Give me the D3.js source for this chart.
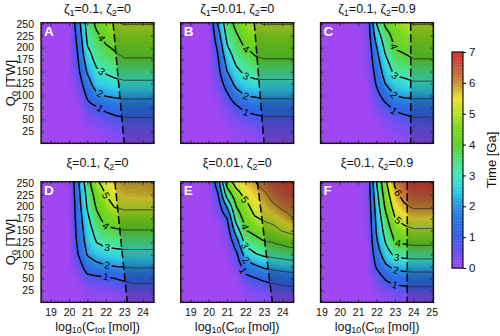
<!DOCTYPE html>
<html><head><meta charset="utf-8">
<script src="https://cdn.jsdelivr.net/npm/d3@7"></script>
<style>
body{margin:0;background:#fff;}
svg{display:block;font-family:"Liberation Sans",Arial,Helvetica,sans-serif;}
</style>
</head><body>
<svg id="chart" width="500" height="336"></svg>
<script>
// ---------------- DATA ----------------
const Q_ROWS = [0, 25, 50, 75, 100, 125, 150, 175, 200, 225, 250];           // Q0 [TW]
const X_COLS_AB = [18.5, 19, 19.5, 20, 20.5, 21, 21.5, 22, 22.5, 23, 23.5, 24, 24.5];
const X_COLS_CF = [19, 19.5, 20, 20.5, 21, 21.5, 22, 22.5, 23, 23.5, 24, 24.5, 25];

// Time [Ga], one array per log10(Ctot) column, values listed for Q_ROWS
const timeA = [
  [0,0,0,0,0,0,0,0,0,0,0],
  [0,0,0,0,0,0,0,0,0,0,0],
  [0,0,0,0,0,0,0,0,0,0,0],
  [0,0,0,0,0,0,0,0,0,0,0],
  [0,0,0,0,0.2,0.5,0.8,1.0,1.15,1.35,1.6],
  [0,0.05,0.3,0.7,1.15,1.6,2.1,2.5,2.95,3.2,3.4],
  [0,0.15,0.45,0.9,1.8,2.5,2.85,3.3,3.5,3.85,4.2],
  [0.05,0.25,0.6,1.25,2.05,2.6,3.1,3.5,3.9,4.25,4.6],
  [0.1,0.4,0.8,1.4,2.15,2.75,3.3,3.8,4.1,4.6,4.95],
  [0.2,0.5,0.9,1.5,2.2,2.85,3.4,3.95,4.3,4.65,5.03],
  [0.2,0.5,0.9,1.5,2.2,2.85,3.4,3.95,4.3,4.65,5.03],
  [0.2,0.5,0.9,1.5,2.2,2.85,3.4,3.95,4.3,4.65,5.03],
  [0.2,0.5,0.9,1.5,2.2,2.85,3.4,3.95,4.3,4.65,5.03]
];
const timeB = [
  [0,0,0,0,0,0,0,0,0,0,0],
  [0,0,0,0,0,0,0,0,0,0,0],
  [0,0,0,0,0,0,0,0,0,0,0],
  [0,0,0,0,0,0,0,0,0,0,0],
  [0,0,0,0.05,0.2,0.45,0.7,0.9,1.15,1.6,2.05],
  [0,0.05,0.15,0.4,0.85,1.4,2.0,2.4,2.9,3.25,3.55],
  [0.05,0.15,0.4,0.85,1.6,2.3,2.8,3.25,3.6,3.9,4.25],
  [0.1,0.25,0.6,1.25,2.03,2.65,3.2,3.55,4.05,4.4,4.7],
  [0.1,0.35,0.75,1.35,2.1,2.8,3.3,3.9,4.2,4.6,4.95],
  [0.2,0.5,0.85,1.45,2.2,2.8,3.4,3.98,4.3,4.65,5.03],
  [0.2,0.5,0.85,1.45,2.2,2.8,3.4,3.98,4.3,4.65,5.03],
  [0.2,0.5,0.85,1.45,2.2,2.8,3.4,3.98,4.3,4.65,5.03],
  [0.2,0.5,0.85,1.45,2.2,2.8,3.4,3.98,4.3,4.65,5.03]
];
const timeC = [
  [0,0,0,0,0,0,0,0,0,0,0],
  [0,0,0,0,0,0,0,0,0,0,0],
  [0,0,0,0,0,0,0,0,0,0,0],
  [0,0,0,0,0,0,0,0,0,0,0],
  [0,0,0,0,0,0,0,0,0,0,0],
  [0,0,0,0,0,0.05,0.15,0.25,0.3,0.35,0.4],
  [0,0,0.1,0.35,0.7,1.1,1.35,1.65,1.95,2.5,3.0],
  [0,0.1,0.35,0.75,1.4,2.05,2.5,2.85,3.3,3.65,4.2],
  [0.05,0.25,0.6,1.2,2.03,2.6,3.2,3.6,4.05,4.3,4.6],
  [0.1,0.35,0.75,1.35,2.15,2.75,3.3,3.8,4.2,4.55,4.9],
  [0.2,0.5,0.9,1.45,2.2,2.9,3.4,3.98,4.3,4.65,5.03],
  [0.2,0.5,0.9,1.45,2.2,2.9,3.4,3.98,4.3,4.65,5.03],
  [0.2,0.5,0.9,1.45,2.2,2.9,3.4,3.98,4.3,4.65,5.03]
];
const timeD = [
  [0,0,0,0,0,0,0,0,0,0,0],
  [0,0,0,0,0,0,0,0,0,0,0],
  [0,0,0,0,0,0,0,0,0,0,0],
  [0,0,0,0,0,0,0,0,0,0,0],
  [0,0,0.1,0.5,1.0,1.2,1.35,1.45,1.55,1.7,1.85],
  [0.05,0.2,0.7,1.5,2.05,2.35,2.55,2.8,3.1,3.3,3.6],
  [0.05,0.3,0.8,1.75,2.4,3.0,3.35,3.75,4.1,4.4,4.85],
  [0.05,0.3,0.85,1.9,2.6,3.25,3.8,4.3,4.65,5.02,5.35],
  [0.1,0.4,1.0,2.0,2.7,3.3,3.9,4.45,5.05,5.4,5.7],
  [0.12,0.5,1.15,2.05,2.75,3.35,3.97,4.6,5.15,5.6,5.88],
  [0.15,0.6,1.3,2.1,2.75,3.35,3.97,4.6,5.15,5.62,5.9],
  [0.15,0.6,1.3,2.1,2.75,3.35,3.97,4.6,5.15,5.66,5.93],
  [0.15,0.6,1.3,2.1,2.75,3.35,3.97,4.6,5.15,5.7,5.96]
];
const timeE = [
  [0,0,0,0,0,0,0,0,0,0,0],
  [0,0,0,0,0,0,0,0,0,0,0],
  [0,0,0,0,0,0,0,0,0,0,0],
  [0,0,0,0,0,0,0,0,0,0,0],
  [0,0,0,0,0,0,0.05,0.15,0.45,0.9,1.5],
  [0,0,0,0,0.05,0.2,0.5,0.95,2.1,3.4,4.4],
  [0,0,0.1,0.35,0.8,1.5,2.5,3.4,4.0,4.6,5.4],
  [0.05,0.25,0.7,1.5,2.4,3.35,3.95,4.35,4.7,5.3,5.7],
  [0.1,0.4,0.95,1.85,2.9,3.6,4.25,4.9,5.35,5.6,5.95],
  [0.15,0.5,1.15,2.15,3.15,3.9,4.6,5.1,5.5,5.85,6.3],
  [0.2,0.6,1.3,2.3,3.25,4.0,4.7,5.3,5.85,6.3,6.6],
  [0.25,0.7,1.4,2.4,3.35,4.2,5.05,5.6,6.15,6.5,6.8],
  [0.3,0.75,1.5,2.5,3.45,4.4,5.25,5.95,6.3,6.65,6.9]
];
const timeF = [
  [0,0,0,0,0,0,0,0,0,0,0],
  [0,0,0,0,0,0,0,0,0,0,0],
  [0,0,0,0,0,0,0,0,0,0,0],
  [0,0,0,0,0,0,0,0,0,0,0],
  [0,0,0,0,0,0,0,0,0,0,0],
  [0,0,0,0,0,0.05,0.1,0.15,0.2,0.25,0.3],
  [0,0.15,0.5,1.1,1.5,1.85,2.1,2.25,2.45,2.7,3.0],
  [0.1,0.45,1.1,1.85,2.5,3.05,3.4,3.75,4.2,4.55,4.85],
  [0.15,0.65,1.4,2.25,3.2,4.0,4.45,4.95,5.4,5.75,6.15],
  [0.2,0.7,1.5,2.35,3.3,4.1,4.75,5.3,5.85,6.3,6.6],
  [0.2,0.75,1.55,2.4,3.35,4.2,4.9,5.5,6.1,6.5,6.8],
  [0.2,0.75,1.55,2.4,3.35,4.2,4.9,5.5,6.1,6.5,6.8],
  [0.2,0.75,1.55,2.4,3.35,4.2,4.9,5.5,6.1,6.55,6.9]
];

const PANEL_IDS = ["A", "B", "C", "D", "E", "F"];
const PANEL_TITLES = ["ζ_1=0.1, ζ_2=0", "ζ_1=0.01, ζ_2=0", "ζ_1=0.1, ζ_2=0.9",
                      "ξ=0.1, ζ_2=0", "ξ=0.01, ζ_2=0", "ξ=0.1, ζ_2=0.9"];
const PANEL_TIMES = [timeA, timeB, timeC, timeD, timeE, timeF];
const PANEL_XCOLS = [X_COLS_AB, X_COLS_AB, X_COLS_CF, X_COLS_AB, X_COLS_AB, X_COLS_CF];
const X_DOMAINS = [[18.48, 24.62], [18.48, 24.62], [18.95, 25.1],
                   [18.48, 24.62], [18.48, 24.62], [18.95, 25.1]];
const Q_DOMAIN = [0, 252];
// dashed boundary: log10(Ctot) at Q0 = 250 and at Q0 = 0
const DASH_TOP = [22.4, 22.48, 23.86, 22.5, 22.65, 23.67];
const DASH_BOTTOM = [23.0, 23.01, 23.86, 23.17, 23.46, 23.67];
// contour labels: [level, log10(Ctot), approx Q0]
const LABELS = [
  [[1,21.69,74],[2,21.69,102],[3,21.78,150],[4,21.78,210]],
  [[1,22.03,67],[2,22.03,99],[3,22.03,140],[4,22.03,197]],
  [[1,22.95,69],[2,22.95,99],[3,23.0,140],[4,22.95,197]],
  [[1,22.01,55],[2,22.08,79],[3,22.08,117],[4,22.01,162],[5,22.01,224]],
  [[1,21.88,62],[2,22.03,86],[3,21.97,115],[4,21.97,155],[5,21.97,215]],
  [[1,23.0,38],[2,23.06,67],[3,23.1,93],[4,23.18,122],[5,23.18,169],[6,23.18,230]]
];
const CONTOUR_LEVELS = [1, 2, 3, 4, 5, 6];
const Q_TICKS = [25, 50, 75, 100, 125, 150, 175, 200, 225, 250];
const X_TICKS_AB = [19, 20, 21, 22, 23, 24];
const X_TICKS_CF = [19, 20, 21, 22, 23, 24, 25];
const CBAR_TICKS = [0, 1, 2, 3, 4, 5, 6, 7];
const COLOR_STOPS = [0, 0.5, 1, 1.5, 2, 2.5, 3, 3.5, 4, 4.5, 5, 5.5, 6, 6.5, 7];
const COLOR_HEX = ["#a046f2", "#7050f0", "#3a5ee8", "#2a72e2", "#2a92e2", "#30cce6",
                   "#40e8c4", "#50e07a", "#5cd22c", "#7ad820", "#b2e226", "#f0e034",
                   "#cc9036", "#c45a3a", "#d63030"];

// ---------------- LAYOUT ----------------
const COL_LEFT = [41, 180.7, 320.5], PW = 113;
const ROW_TOP = [22.7, 181.7], PH = 120.7;
const FONT = '"Liberation Sans",Arial,Helvetica,sans-serif';

const svg = d3.select("#chart");
const defs = svg.append("defs");
const color = d3.scaleLinear().domain(COLOR_STOPS).range(COLOR_HEX).clamp(true);

function richText(sel, str, subSize, shift) {
  // "_x" or "_{xyz}" makes subscripts
  const re = /_\{([^}]*)\}|_(.)/g;
  let last = 0, m, down = false;
  const add = (t, sub) => {
    if (!t) return;
    const ts = sel.append("tspan").text(t);
    if (sub) {
      ts.attr("font-size", subSize);
      if (!down) { ts.attr("dy", shift); down = true; }
    } else if (down) { ts.attr("dy", -shift); down = false; }
  };
  while ((m = re.exec(str)) !== null) {
    add(str.slice(last, m.index), false);
    add(m[1] !== undefined ? m[1] : m[2], true);
    last = re.lastIndex;
  }
  add(str.slice(last), false);
}

function makeField(xs, cols) {
  const nx = xs.length, nq = Q_ROWS.length;
  const dx = xs[1] - xs[0], dq = Q_ROWS[1] - Q_ROWS[0];
  return (x, q) => {
    let fx = Math.max(0, Math.min(nx - 1, (x - xs[0]) / dx));
    let fq = Math.max(0, Math.min(nq - 1, (q - Q_ROWS[0]) / dq));
    const i = Math.min(Math.floor(fx), nx - 2), j = Math.min(Math.floor(fq), nq - 2);
    const tx = fx - i, tq = fq - j;
    return cols[i][j] * (1 - tx) * (1 - tq) + cols[i + 1][j] * tx * (1 - tq) +
           cols[i][j + 1] * (1 - tx) * tq + cols[i + 1][j + 1] * tx * tq;
  };
}

PANEL_IDS.forEach((id, k) => {
  const col = k % 3, row = Math.floor(k / 3);
  const x0 = COL_LEFT[col], y0 = ROW_TOP[row];
  const [xa, xb] = X_DOMAINS[k];
  const xs = d3.scaleLinear().domain([xa, xb]).range([x0, x0 + PW]);
  const ys = d3.scaleLinear().domain(Q_DOMAIN).range([y0 + PH, y0]);
  const f = makeField(PANEL_XCOLS[k], PANEL_TIMES[k]);

  // sampled grid for contouring
  const n = 170, pad = 3, N = n + 2 * pad;
  const sx = (xb - xa) / (n - 1), sq = (Q_DOMAIN[1] - Q_DOMAIN[0]) / (n - 1);
  const values = new Float64Array(N * N);
  for (let j = 0; j < N; j++) for (let i = 0; i < N; i++)
    values[j * N + i] = f(xa + (i - pad) * sx, Q_DOMAIN[1] - (j - pad) * sq);
  const proj = d3.geoTransform({
    point(u, v) {
      this.stream.point(xs(xa + (u - 0.5 - pad) * sx), ys(Q_DOMAIN[1] - (v - 0.5 - pad) * sq));
    }
  });
  const path = d3.geoPath(proj);

  const dashX = q => DASH_BOTTOM[k] + (DASH_TOP[k] - DASH_BOTTOM[k]) * q / 250;
  const dTop = [xs(dashX(Q_DOMAIN[1])), ys(Q_DOMAIN[1])];
  const dBot = [xs(dashX(0)), ys(0)];

  const clipId = "clip" + id;
  defs.append("clipPath").attr("id", clipId)
    .append("rect").attr("x", x0).attr("y", y0).attr("width", PW).attr("height", PH);
  const leftPoly = [[x0 - 2, y0 - 2], [dTop[0], y0 - 2], [dTop[0], dTop[1]], [dBot[0], dBot[1]], [dBot[0], y0 + PH + 2], [x0 - 2, y0 + PH + 2]];
  const rightPoly = [[dTop[0], y0 - 2], [x0 + PW + 2, y0 - 2], [x0 + PW + 2, y0 + PH + 2], [dBot[0], y0 + PH + 2], [dBot[0], dBot[1]], [dTop[0], dTop[1]]];
  defs.append("clipPath").attr("id", "clipL" + id).append("polygon").attr("points", leftPoly.join(" "));
  defs.append("clipPath").attr("id", "clipR" + id).append("polygon").attr("points", rightPoly.join(" "));

  const g = svg.append("g").attr("clip-path", `url(#${clipId})`);
  g.append("rect").attr("x", x0).attr("y", y0).attr("width", PW).attr("height", PH)
    .attr("fill", color(0));
  const thr = d3.range(70).map(t => 0.05 + 0.1 * t);
  const fills = d3.contours().size([N, N]).thresholds(thr)(values);
  g.selectAll("path.fill").data(fills).join("path").attr("class", "fill")
    .attr("d", path).attr("fill", d => color(d.value + 0.05)).attr("stroke", "none");

  // darker shading beyond the dashed boundary
  g.append("polygon").attr("points", rightPoly.join(" ")).attr("fill", "#000").attr("fill-opacity", 0.18);

  // label positions
  const labelPos = LABELS[k].map(([lev, lx, lq]) => {
    let best = lq, bestD = 1e9;
    for (let q = 0.5; q < Q_DOMAIN[1]; q += 0.25) {
      const a = f(lx, q - 0.25) - lev, b = f(lx, q) - lev;
      if (a * b <= 0 && Math.abs(q - lq) < bestD) { bestD = Math.abs(q - lq); best = q; }
    }
    const px = xs(lx), py = ys(best);
    const h = 1.5;
    const gxp = (f(xs.invert(px + h), best) - f(xs.invert(px - h), best)) / (2 * h);
    const gyp = (f(lx, ys.invert(py + h)) - f(lx, ys.invert(py - h))) / (2 * h);
    let ang = Math.atan2(gxp, -gyp) * 180 / Math.PI; // tangent direction
    if (ang > 90) ang -= 180; if (ang < -90) ang += 180;
    return {lev, px, py, ang};
  });

  const maskId = "mask" + id;
  const mask = defs.append("mask").attr("id", maskId).attr("maskUnits", "userSpaceOnUse")
    .attr("x", 0).attr("y", 0).attr("width", 500).attr("height", 336);
  mask.append("rect").attr("x", 0).attr("y", 0).attr("width", 500).attr("height", 336).attr("fill", "#fff");
  mask.selectAll("rect.hole").data(labelPos).join("rect").attr("class", "hole")
    .attr("x", -4.5).attr("y", -4).attr("width", 9).attr("height", 8).attr("fill", "#000")
    .attr("transform", d => `translate(${d.px},${d.py}) rotate(${d.ang})`);

  const lines = d3.contours().size([N, N]).thresholds(CONTOUR_LEVELS)(values);
  const lg = g.append("g").attr("mask", `url(#${maskId})`);
  lg.append("g").attr("clip-path", `url(#clipL${id})`)
    .selectAll("path").data(lines).join("path")
    .attr("d", path).attr("fill", "none").attr("stroke", "#000")
    .attr("stroke-width", 1.4).attr("stroke-linejoin", "round");
  lg.append("g").attr("clip-path", `url(#clipR${id})`)
    .selectAll("path").data(lines).join("path")
    .attr("d", path).attr("fill", "none").attr("stroke", "#2a2a2a")
    .attr("stroke-width", 0.9).attr("stroke-linejoin", "round");

  g.append("path")
    .attr("d", d3.line()([dTop, dBot]))
    .attr("stroke", "#000").attr("stroke-width", 1.5).attr("stroke-dasharray", "8,3.5").attr("fill", "none");

  g.selectAll("text.clab").data(labelPos).join("text").attr("class", "clab")
    .attr("transform", d => `translate(${d.px},${d.py}) rotate(${d.ang})`)
    .attr("text-anchor", "middle").attr("dy", "0.36em")
    .attr("font-size", 10).attr("font-family", FONT).attr("fill", "#000")
    .text(d => d.lev);

  // panel letter
  svg.append("text").attr("x", x0 + 3).attr("y", y0 + 13).attr("fill", "#fff")
    .attr("font-weight", "bold").attr("font-size", 13.5).attr("font-family", FONT).text(id);

  // axes: ticks on all sides, pointing inward
  const xt = col === 2 ? X_TICKS_CF : X_TICKS_AB;
  const xMinor = d3.range(Math.ceil(xa * 5) / 5, xb, 0.2);
  const qMinor = d3.range(5, 252, 5);
  const axG = svg.append("g").attr("font-family", FONT);
  axG.append("g").attr("transform", `translate(0,${y0 + PH})`)
    .call(d3.axisBottom(xs).tickValues(xt).tickSize(-3).tickPadding(6)
      .tickFormat(row === 1 ? d3.format("d") : () => ""));
  axG.append("g").attr("transform", `translate(0,${y0 + PH})`)
    .call(d3.axisBottom(xs).tickValues(xMinor).tickSize(-1.5).tickFormat(() => ""));
  axG.append("g").attr("transform", `translate(0,${y0})`)
    .call(d3.axisTop(xs).tickValues(xt).tickSize(-3).tickFormat(() => ""));
  axG.append("g").attr("transform", `translate(0,${y0})`)
    .call(d3.axisTop(xs).tickValues(xMinor).tickSize(-1.5).tickFormat(() => ""));
  axG.append("g").attr("transform", `translate(${x0},0)`)
    .call(d3.axisLeft(ys).tickValues(Q_TICKS).tickSize(-3).tickPadding(7)
      .tickFormat(col === 0 ? d3.format("d") : () => ""));
  axG.append("g").attr("transform", `translate(${x0},0)`)
    .call(d3.axisLeft(ys).tickValues(qMinor).tickSize(-1.5).tickFormat(() => ""));
  axG.append("g").attr("transform", `translate(${x0 + PW},0)`)
    .call(d3.axisRight(ys).tickValues(Q_TICKS).tickSize(-3).tickFormat(() => ""));
  axG.append("g").attr("transform", `translate(${x0 + PW},0)`)
    .call(d3.axisRight(ys).tickValues(qMinor).tickSize(-1.5).tickFormat(() => ""));
  axG.selectAll(".domain").remove();
  axG.selectAll(".tick line").attr("stroke", "#222").attr("stroke-width", 0.8);
  axG.selectAll(".tick text").attr("font-size", 10.5).attr("fill", "#111");

  svg.append("rect").attr("x", x0).attr("y", y0).attr("width", PW).attr("height", PH)
    .attr("fill", "none").attr("stroke", "#111").attr("stroke-width", 1.3);

  // title
  const t = svg.append("text").attr("x", x0 + PW / 2).attr("y", row === 0 ? 12.5 : 167)
    .attr("text-anchor", "middle").attr("font-size", 12.5).attr("font-family", FONT).attr("fill", "#111");
  richText(t, PANEL_TITLES[k], 9, 3);

  if (col === 0) {
    const yl = svg.append("text")
      .attr("transform", `translate(14.5,${y0 + PH / 2}) rotate(-90)`)
      .attr("text-anchor", "middle").attr("font-size", 13).attr("font-family", FONT).attr("fill", "#111");
    richText(yl, "Q_0 [TW]", 9, 3);
  }
  if (row === 1) {
    const xl = svg.append("text").attr("x", x0 + PW / 2).attr("y", 330.5)
      .attr("text-anchor", "middle").attr("font-size", 12.5).attr("font-family", FONT).attr("fill", "#111");
    richText(xl, "log_{10}(C_{tot} [mol])", 9, 2.5);
  }
});

// ---------------- COLORBAR ----------------
const cbX = 452, cbW = 11, cbTop = 52, cbBot = 268;
const cy = d3.scaleLinear().domain([0, 7]).range([cbBot, cbTop]);
const cbSteps = d3.range(0, 7, 0.05);
svg.append("g").selectAll("rect").data(cbSteps).join("rect")
  .attr("x", cbX).attr("width", cbW)
  .attr("y", d => cy(d + 0.05)).attr("height", d => cy(d) - cy(d + 0.05) + 0.4)
  .attr("fill", d => color(d + 0.025));
svg.append("rect").attr("x", cbX).attr("y", cbTop).attr("width", cbW).attr("height", cbBot - cbTop)
  .attr("fill", "none").attr("stroke", "#111").attr("stroke-width", 1.2);
const cbAx = svg.append("g").attr("transform", `translate(${cbX + cbW},0)`)
  .call(d3.axisRight(cy).tickValues(CBAR_TICKS).tickSize(3).tickPadding(3).tickFormat(d3.format("d")));
cbAx.select(".domain").remove();
cbAx.selectAll(".tick text").attr("font-size", 11.5).attr("font-family", FONT).attr("fill", "#111");
svg.append("text").attr("transform", `translate(496,${(cbTop + cbBot) / 2}) rotate(-90)`)
  .attr("text-anchor", "middle").attr("font-size", 13).attr("font-family", FONT).attr("fill", "#111")
  .text("Time [Ga]");
</script>
</body></html>
